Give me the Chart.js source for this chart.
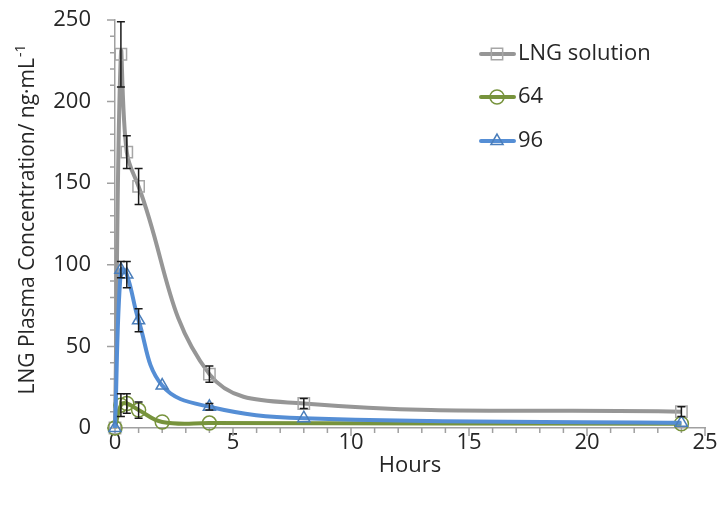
<!DOCTYPE html>
<html>
<head>
<meta charset="utf-8">
<script src="https://cdn.jsdelivr.net/npm/chart.js@4.4.0/dist/chart.umd.min.js"></script>
<style>
  html, body { margin: 0; padding: 0; background: #fff; }
  #pkChart { display: block; }
</style>
</head>
<body>
<canvas id="pkChart" width="720" height="510"></canvas>
<script>
// Sampling times (h) and mean plasma levels (ng/mL) with SD
const hoursSolution = [0, 0.25, 0.5, 1, 4, 8, 24];
const concSolution  = [0, 229, 169, 148, 33, 15, 10];
const sdSolution    = [0, 20, 10, 11, 5, 3, 3];

const hours64 = [0, 0.25, 0.5, 1, 2, 4, 24];
const conc64  = [0, 14, 15, 11, 3.7, 3, 2.6];
const sd64    = [0, 7, 6, 5, 0, 0, 0];

const hours96 = [0, 0.25, 0.5, 1, 2, 4, 8, 24];
const conc96  = [0, 97, 94, 66, 26, 13, 6, 3.2];
const sd96    = [0, 5, 8, 7, 0, 2, 0, 0];

const seriesNames = ['LNG solution', '64', '96'];
const xTicksMajor = [0, 5, 10, 15, 20, 25];
const yTicksMajor = [0, 50, 100, 150, 200, 250];

const FONT = "'Open Sans', 'Noto Sans', sans-serif";
const TEXT = '#262626';
const AXIS = '#a0a0a0';

function toPoints(xs, ys) {
    return xs.map((x, i) => ({ x: x, y: ys[i] }));
}

function drawMarkerPath(ctx, style, r, x, y) {
    if (style === 'rect') {
        const s = r * Math.SQRT1_2;
        ctx.rect(x - s, y - s, 2 * s, 2 * s);
    } else if (style === 'circle') {
        ctx.arc(x, y, r, 0, Math.PI * 2);
    } else {
        ctx.moveTo(x, y - r);
        ctx.lineTo(x + r * Math.sin(2 * Math.PI / 3), y - r * Math.cos(2 * Math.PI / 3));
        ctx.lineTo(x + r * Math.sin(4 * Math.PI / 3), y - r * Math.cos(4 * Math.PI / 3));
        ctx.closePath();
    }
}

// Error bars from the sd arrays stored on each dataset
const errorBars = {
    id: 'errorBars',
    afterDatasetsDraw(chart) {
        const { ctx, scales: { x, y } } = chart;
        ctx.save();
        ctx.strokeStyle = '#1a1a1a';
        ctx.lineWidth = 1.5;
        chart.data.datasets.forEach(ds => {
            ds.data.forEach((p, i) => {
                const e = ds.sd[i];
                if (!e) return;
                const px = x.getPixelForValue(p.x);
                const top = y.getPixelForValue(p.y + e);
                const bot = y.getPixelForValue(Math.max(p.y - e, 0));
                ctx.beginPath();
                ctx.moveTo(px, top); ctx.lineTo(px, bot);
                ctx.moveTo(px - 4, top); ctx.lineTo(px + 4, top);
                ctx.moveTo(px - 4, bot); ctx.lineTo(px + 4, bot);
                ctx.stroke();
            });
        });
        ctx.restore();
    }
};

// Major/minor tick marks, axis titles and the legend box
const decorations = {
    id: 'decorations',
    beforeDatasetsDraw(chart) {
        const { ctx, chartArea, scales: { x, y } } = chart;
        ctx.save();
        ctx.strokeStyle = AXIS;
        ctx.lineWidth = 1.5;
        ctx.beginPath();
        x.ticks.forEach(t => {
            const px = x.getPixelForValue(t.value);
            const len = xTicksMajor.includes(t.value) ? 8 : 5;
            ctx.moveTo(px, chartArea.bottom);
            ctx.lineTo(px, chartArea.bottom + len);
        });
        y.ticks.forEach(t => {
            const py = y.getPixelForValue(t.value);
            const len = yTicksMajor.includes(t.value) ? 8 : 5;
            ctx.moveTo(chartArea.left, py);
            ctx.lineTo(chartArea.left - len, py);
        });
        ctx.stroke();
        ctx.restore();
    },
    afterDraw(chart) {
        const { ctx, chartArea } = chart;
        ctx.save();
        ctx.fillStyle = TEXT;

        // x title
        ctx.font = `22px ${FONT}`;
        ctx.textAlign = 'center';
        ctx.textBaseline = 'middle';
        ctx.fillText('Hours', (chartArea.left + chartArea.right) / 2, 466);

        // y title with superscript unit exponent
        const main = 'LNG Plasma Concentration/ ng\u00b7mL';
        const sup = '-1';
        ctx.translate(34, 220);
        ctx.rotate(-Math.PI / 2);
        ctx.font = `21px ${FONT}`;
        const wMain = ctx.measureText(main).width;
        ctx.font = `14px ${FONT}`;
        const wSup = ctx.measureText(sup).width;
        const start = -(wMain + wSup) / 2;
        ctx.textAlign = 'left';
        ctx.textBaseline = 'alphabetic';
        ctx.font = `21px ${FONT}`;
        ctx.fillText(main, start, 0);
        ctx.font = `14px ${FONT}`;
        ctx.fillText(sup, start + wMain + 1, -9);
        ctx.restore();

        // legend
        ctx.save();
        const lx = 481, rowY = [54, 97, 141];
        chart.data.datasets.forEach((ds, i) => {
            const yy = rowY[i];
            ctx.strokeStyle = ds.borderColor;
            ctx.lineWidth = 4;
            ctx.lineCap = 'round';
            ctx.beginPath();
            ctx.moveTo(lx, yy); ctx.lineTo(lx + 33, yy);
            ctx.stroke();
            ctx.strokeStyle = ds.pointBorderColor;
            ctx.lineWidth = ds.pointBorderWidth;
            ctx.lineCap = 'butt';
            ctx.beginPath();
            drawMarkerPath(ctx, ds.pointStyle, ds.pointRadius, lx + 16, yy);
            ctx.stroke();
            ctx.fillStyle = TEXT;
            ctx.font = `22px ${FONT}`;
            ctx.textAlign = 'left';
            ctx.textBaseline = 'middle';
            ctx.fillText(ds.label, lx + 37, yy);
        });
        ctx.restore();
    }
};

const lineStyle = {
    fill: false,
    tension: 0.4,
    borderWidth: 4,
    pointBorderWidth: 1.5,
    pointBackgroundColor: 'rgba(255,255,255,0)',
    clip: false
};

const ctx = document.getElementById('pkChart').getContext('2d');
new Chart(ctx, {
    type: 'line',
    data: {
        datasets: [
            Object.assign({}, lineStyle, {
                label: seriesNames[0],
                data: toPoints(hoursSolution, concSolution),
                sd: sdSolution,
                borderColor: '#969696',
                pointBorderColor: '#a6a6a6',
                pointStyle: 'rect',
                pointRadius: 8,
                order: 2
            }),
            Object.assign({}, lineStyle, {
                label: seriesNames[1],
                data: toPoints(hours64, conc64),
                sd: sd64,
                borderColor: '#77933c',
                pointBorderColor: '#77933c',
                pointStyle: 'circle',
                pointRadius: 7,
                order: 1
            }),
            Object.assign({}, lineStyle, {
                label: seriesNames[2],
                data: toPoints(hours96, conc96),
                sd: sd96,
                borderColor: '#558ed5',
                pointBorderColor: '#4a7ebb',
                pointStyle: 'triangle',
                pointRadius: 7,
                order: 0
            })
        ]
    },
    options: {
        responsive: false,
        animation: false,
        events: [],
        layout: { padding: { top: 20, right: 15, left: 0, bottom: 0 } },
        plugins: { legend: { display: false }, tooltip: { enabled: false } },
        scales: {
            x: {
                type: 'linear',
                min: 0, max: 25,
                grid: { drawOnChartArea: false, drawTicks: false },
                border: { color: AXIS, width: 1.5 },
                ticks: {
                    stepSize: 1,
                    autoSkip: false,
                    maxRotation: 0,
                    padding: 2,
                    color: TEXT,
                    font: { family: FONT, size: 22 },
                    callback: v => xTicksMajor.includes(v) ? v : ''
                },
                afterFit(scale) {
                    scale.height = 82;
                    scale.paddingLeft = 0;
                    scale.paddingRight = 0;
                }
            },
            y: {
                min: 0, max: 250,
                grid: { drawOnChartArea: false, drawTicks: false },
                border: { color: AXIS, width: 1.5 },
                ticks: {
                    stepSize: 10,
                    autoSkip: false,
                    padding: 24,
                    color: TEXT,
                    font: { family: FONT, size: 22 },
                    callback: v => yTicksMajor.includes(v) ? v : ''
                },
                afterFit(scale) {
                    scale.width = 115;
                    scale.paddingTop = 0;
                    scale.paddingBottom = 0;
                }
            }
        }
    },
    plugins: [decorations, errorBars]
});
</script>
</body>
</html>
